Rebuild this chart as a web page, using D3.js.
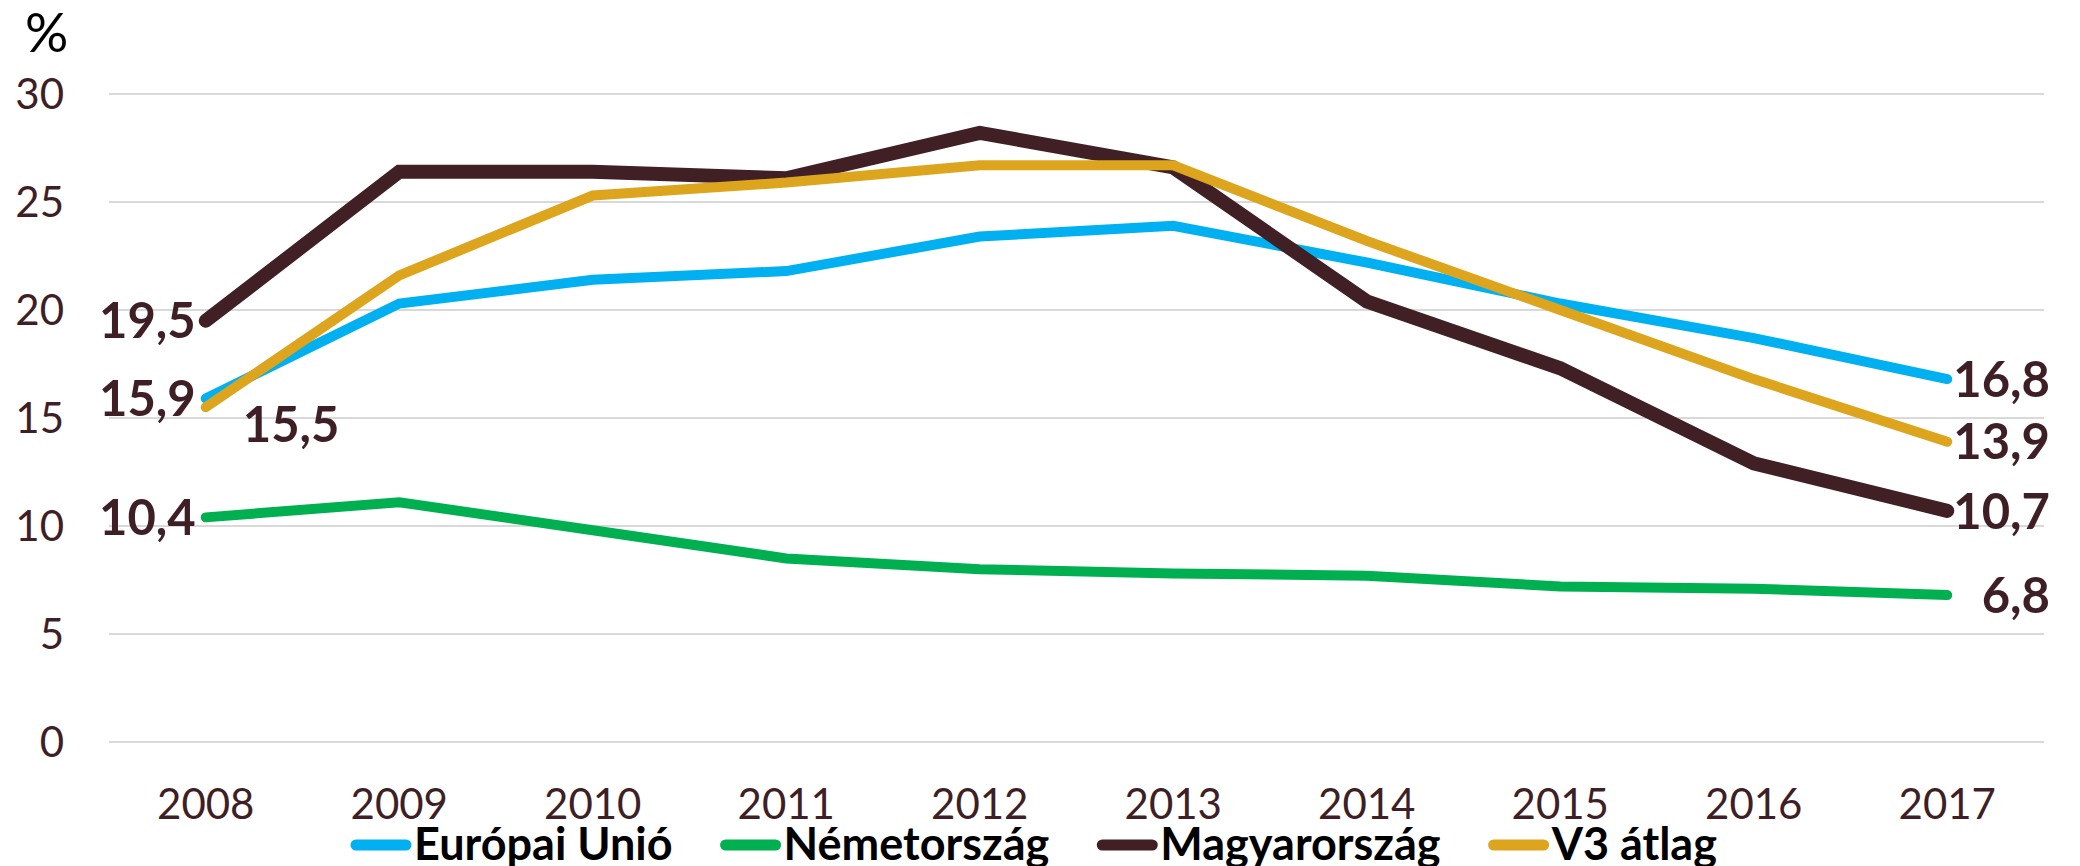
<!DOCTYPE html>
<html>
<head>
<meta charset="utf-8">
<script src="https://cdn.jsdelivr.net/npm/d3@7"></script>
<style>
  body { margin: 0; background: #fff; }
  svg text { font-family: Lato, "Open Sans", sans-serif; }
</style>
</head>
<body>
<script>
// data
var years = ["2008", "2009", "2010", "2011", "2012", "2013", "2014", "2015", "2016", "2017"];
var euValues = [15.9, 20.3, 21.4, 21.8, 23.4, 23.9, 22.2, 20.3, 18.7, 16.8];
var deValues = [10.4, 11.1, 9.8, 8.5, 8.0, 7.8, 7.7, 7.2, 7.1, 6.8];
var huValues = [19.5, 26.4, 26.4, 26.1, 28.2, 26.6, 20.4, 17.3, 12.9, 10.7];
var v3Values = [15.5, 21.6, 25.3, 25.9, 26.7, 26.7, 23.2, 20.0, 16.8, 13.9];
var seriesNames = ["Európai Unió", "Németország", "Magyarország", "V3 átlag"];
var yTicks = [0, 5, 10, 15, 20, 25, 30];

var width = 2080,
    height = 866,
    textColor = "#3f1f26";

var series = [
  {name: seriesNames[0], values: euValues, color: "#00b0f0", w: 10},
  {name: seriesNames[1], values: deValues, color: "#00b050", w: 10},
  {name: seriesNames[2], values: huValues, color: "#401f25", w: 14},
  {name: seriesNames[3], values: v3Values, color: "#dca51d", w: 10}
];

var svg = d3.select("body").append("svg")
    .attr("width", width)
    .attr("height", height);

var x = d3.scalePoint()
    .domain(years)
    .range([109, 2044])
    .padding(0.5);

var y = d3.scaleLinear()
    .domain([0, 30])
    .range([742, 94]);

// gridlines
svg.append("g")
    .selectAll("line")
    .data(yTicks)
    .enter().append("line")
    .attr("x1", 109)
    .attr("x2", 2044)
    .attr("y1", function(d) { return y(d); })
    .attr("y2", function(d) { return y(d); })
    .style("stroke", "#d9d9d9")
    .style("stroke-width", 2);

// y axis labels
svg.append("g")
    .selectAll("text")
    .data(yTicks)
    .enter().append("text")
    .attr("x", 64)
    .attr("y", function(d) { return y(d); })
    .attr("dy", "0.36em")
    .attr("text-anchor", "end")
    .style("font-size", "42px")
    .style("fill", textColor)
    .text(function(d) { return d; });

svg.append("text")
    .attr("x", 25)
    .attr("y", 52)
    .style("font-size", "54px")
    .style("fill", "#000")
    .text("%");

// x axis labels
svg.append("g")
    .selectAll("text")
    .data(years)
    .enter().append("text")
    .attr("x", function(d) { return x(d); })
    .attr("y", 819)
    .attr("text-anchor", "middle")
    .style("font-size", "42px")
    .style("fill", textColor)
    .text(function(d) { return d; });

// lines
var line = d3.line()
    .x(function(d, i) { return x(years[i]); })
    .y(function(d) { return y(d); });

svg.append("g")
    .selectAll("path")
    .data(series)
    .enter().append("path")
    .attr("d", function(d) { return line(d.values); })
    .style("fill", "none")
    .style("stroke", function(d) { return d.color; })
    .style("stroke-width", function(d) { return d.w; })
    .style("stroke-linejoin", "miter")
    .style("stroke-linecap", "round");

// value labels at the ends
function fmt(v) { return d3.format(".1f")(v).replace(".", ","); }

var labels = svg.append("g")
    .style("font-size", "49px")
    .style("font-weight", "bold")
    .style("fill", textColor);

// left side: EU, DE, HU left of the first point, V3 below-right
[0, 1, 2].forEach(function(k) {
  var v = series[k].values[0];
  labels.append("text")
    .attr("x", x(years[0]) - 10)
    .attr("y", y(v))
    .attr("dy", "0.36em")
    .attr("text-anchor", "end")
    .text(fmt(v));
});
labels.append("text")
    .attr("x", x(years[0]) + 37)
    .attr("y", y(v3Values[0]) + 17)
    .attr("dy", "0.36em")
    .text(fmt(v3Values[0]));

// right side
series.forEach(function(s) {
  var v = s.values[s.values.length - 1];
  labels.append("text")
    .attr("x", 2050)
    .attr("y", y(v))
    .attr("dy", "0.36em")
    .attr("text-anchor", "end")
    .text(fmt(v));
});

// legend
var legend = svg.append("g").attr("transform", "translate(351,0)");
var lx = 0;
series.forEach(function(s, i) {
  var g = legend.append("g").attr("transform", "translate(" + lx + ",0)");
  g.append("line")
    .attr("x1", 5).attr("x2", 55)
    .attr("y1", 845).attr("y2", 845)
    .style("stroke", s.color)
    .style("stroke-width", 11)
    .style("stroke-linecap", "round");
  var t = g.append("text")
    .attr("x", 63)
    .attr("y", 860)
    .style("font-size", "45px")
    .style("font-weight", "bold")
    .style("fill", "#000")
    .text(s.name);
  lx += 63 + t.node().getComputedTextLength() + 48;
});
</script>
</body>
</html>
